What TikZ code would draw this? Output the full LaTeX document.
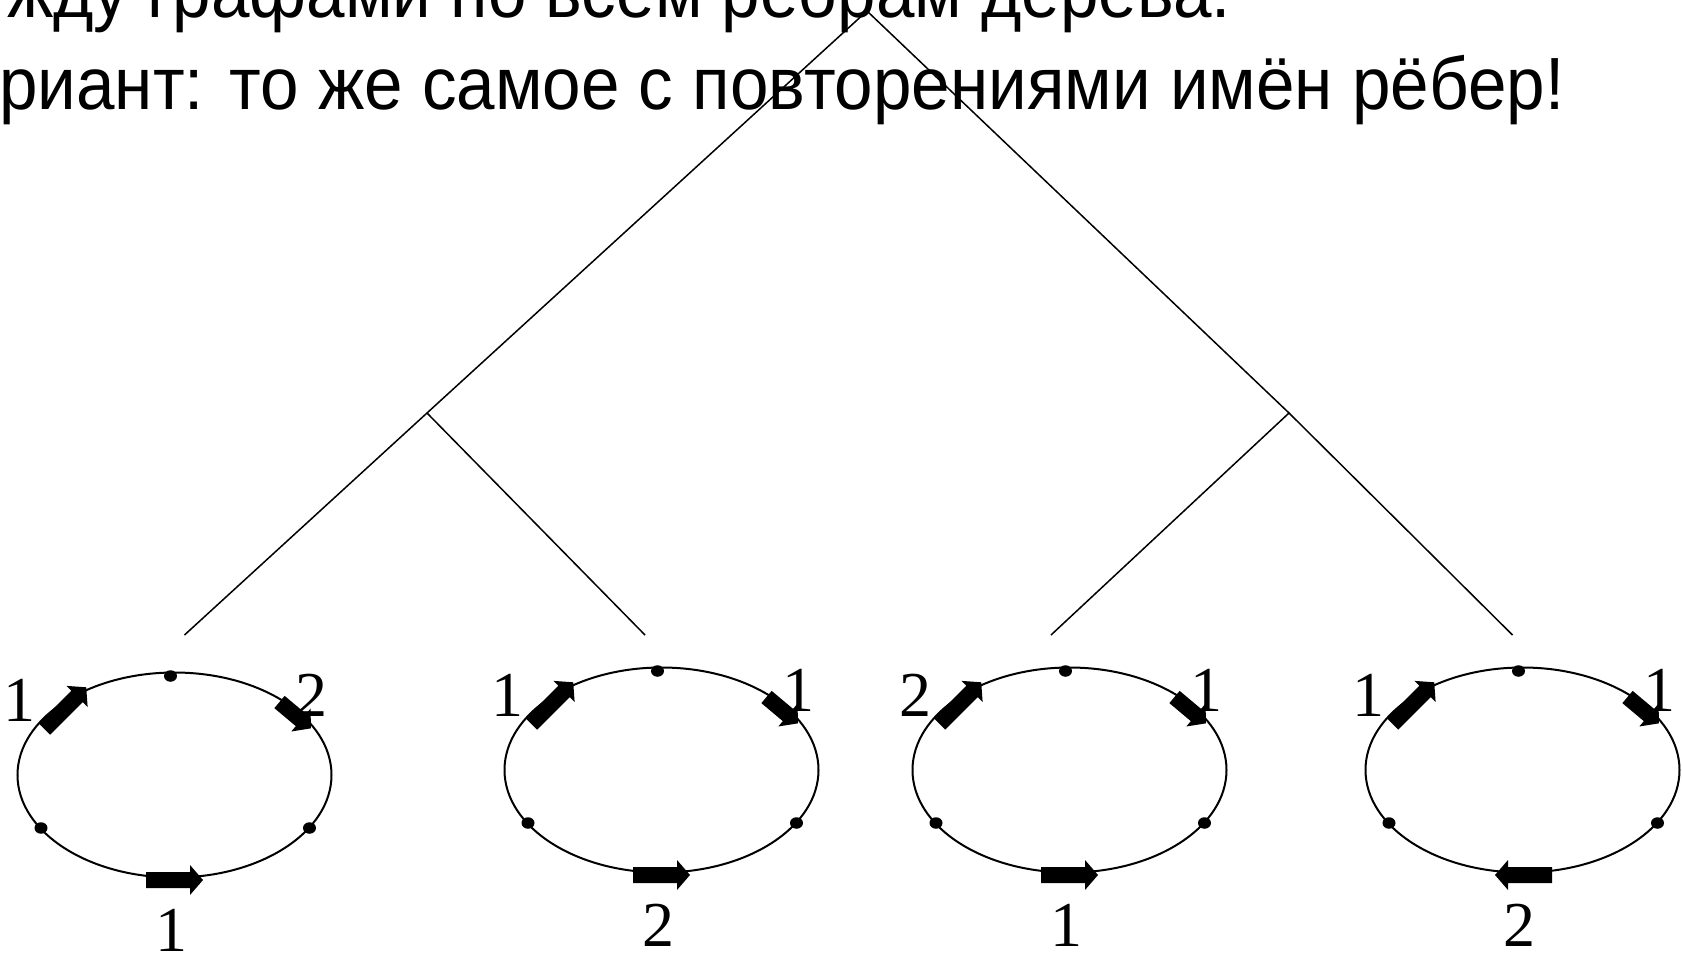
\documentclass[tikz,border=0pt]{standalone}
\usepackage{fontspec}
\usepackage{graphicx}
\setmainfont{Liberation Serif}
\newfontfamily\headfont{Liberation Sans}
\usetikzlibrary{shapes.geometric}
\newcommand\thickarrow[4]{%
  \begin{scope}[shift={(#1,#2)}, rotate=#3]
    \fill (0,8) -- ({#4-13},8) -- ({#4-13},15) -- (#4,0) -- ({#4-13},-15) -- ({#4-13},-8) -- (0,-8) -- cycle;
  \end{scope}}
% #1 name, #2 cx, #3 cy, #4 UL label, #5 UR label, #6 bottom label, #7 bottom tail x, #8 bottom angle
\newcommand\cyclegraph[8]{%
  \begin{scope}[shift={(#2,#3)}]
    \node[draw, ellipse, graphline, minimum width=314pt, minimum height=205pt, inner sep=0pt] (#1) at (0,0) {};
    \node[vdot] (#1t) at (-4,-99) {};
    \node[vdot] (#1l) at (-133.5,53) {};
    \node[vdot] (#1r) at (135,53) {};
    \thickarrow{-130}{-46}{45}{59}
    \thickarrow{105}{-73}{-40}{41}
    \thickarrow{#7}{105}{#8}{57}
    \node[numlabel] (#1a) at (-154.5,-75) {#4};
    \node[numlabel] (#1b) at (137,-80) {#5};
    \node[numlabel] (#1c) at (-3.5,155) {#6};
  \end{scope}}
\begin{document}
\begin{tikzpicture}[x=1pt,y=-1pt,
  treeline/.style={line width=1.5pt},
  graphline/.style={line width=2pt},
  vdot/.style={ellipse, fill, inner sep=0pt, minimum width=13pt, minimum height=11.5pt},
  numlabel/.style={inner sep=0pt, font=\fontsize{64}{64}\selectfont},
  headline/.style={inner sep=0pt, font=\headfont\fontsize{74}{74}\selectfont}]
\useasboundingbox (0,0) rectangle (1682,953);
\clip (0,0) rectangle (1682,953);
\node[headline, anchor=base east] (line1) at (1231,17) {\scalebox{0.935}[1]{жду графами по всем ребрам дерева.}};
\node[headline, anchor=base west] (line2) at (-1,109) {\scalebox{0.935}[1]{риант: то же самое с повторениями имён рёбер!}};
\coordinate (root) at (867,11);
\coordinate (lm) at (427,413);
\coordinate (rm) at (1289,413);
\coordinate (l1) at (184.5,635);
\coordinate (l2) at (645,635);
\coordinate (l3) at (1051,635);
\coordinate (l4) at (1512.5,635);
\draw[treeline] (root) -- (lm) -- (l1);
\draw[treeline] (lm) -- (l2);
\draw[treeline] (root) -- (rm) -- (l3);
\draw[treeline] (rm) -- (l4);
\cyclegraph{ga}{174.5}{775}{1}{2}{1}{-28.5}{0}
\cyclegraph{gb}{661.5}{770}{1}{1}{2}{-28.5}{0}
\cyclegraph{gc}{1069.5}{770}{2}{1}{1}{-28.5}{0}
\cyclegraph{gd}{1522.5}{770}{1}{1}{2}{29.5}{180}
\end{tikzpicture}
\end{document}
